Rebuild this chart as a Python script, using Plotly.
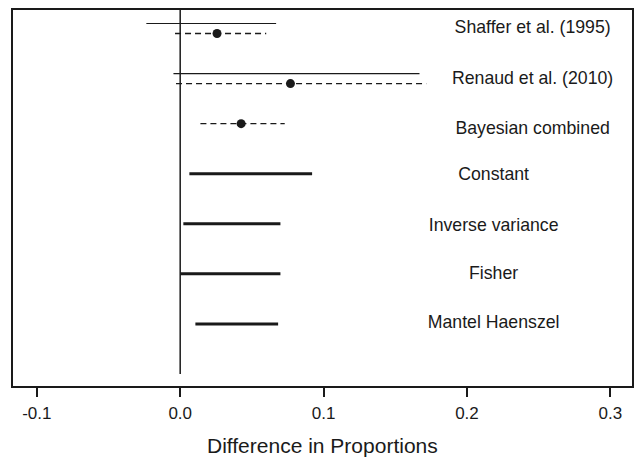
import plotly.graph_objects as go

# Data
studies = ["Shaffer et al. (1995)", "Renaud et al. (2010)"]
freq_lo = [-0.0236, -0.0047]
freq_hi = [0.0669, 0.1669]

bayes_labels = ["Shaffer et al. (1995)", "Renaud et al. (2010)", "Bayesian combined"]
bayes_lo = [-0.0036, -0.0029, 0.0141]
bayes_hi = [0.0600, 0.1716, 0.0729]
bayes_mean = [0.0257, 0.0769, 0.0425]

methods = ["Constant", "Inverse variance", "Fisher", "Mantel Haenszel"]
meth_lo = [0.0064, 0.0022, 0.0001, 0.0106]
meth_hi = [0.0920, 0.0699, 0.0699, 0.0683]

tick_vals = [-0.1, 0.0, 0.1, 0.2, 0.3]
tick_text = ["-0.1", "0.0", "0.1", "0.2", "0.3"]

# row layout
row_study = [7, 6]
row_bayes = [6.8, 5.8, 5.0]
row_meth = [4, 3, 2, 1]
YTOP = 7.27
YBOT = -0.24

INK = "#1a1a1a"
FONT = "Liberation Sans, Arial, Helvetica, sans-serif"

fig = go.Figure()

# zero reference line
fig.add_trace(go.Scatter(x=[0, 0], y=[0, YTOP], mode="lines",
                         line=dict(color=INK, width=1.5), hoverinfo="skip"))

def segs(lo, hi, ys):
    xs, yy = [], []
    for a, b, y in zip(lo, hi, ys):
        xs += [a, b, None]
        yy += [y, y, None]
    return xs, yy

x, y = segs(freq_lo, freq_hi, row_study)
fig.add_trace(go.Scatter(x=x, y=y, mode="lines", line=dict(color=INK, width=1.2)))

x, y = segs(bayes_lo, bayes_hi, row_bayes)
fig.add_trace(go.Scatter(x=x, y=y, mode="lines",
                         line=dict(color=INK, width=1.4, dash="6px,4px")))
fig.add_trace(go.Scatter(x=bayes_mean, y=row_bayes, mode="markers",
                         marker=dict(color=INK, size=9)))

x, y = segs(meth_lo, meth_hi, row_meth)
fig.add_trace(go.Scatter(x=x, y=y, mode="lines", line=dict(color=INK, width=3)))

# labels
label_x = [0.2458, 0.2458, 0.2458, 0.2186, 0.2186, 0.2186, 0.2186]
label_y = [6.9, 5.88, 4.88, 3.96, 2.94, 1.98, 1.0]
labels = [studies[0], studies[1], bayes_labels[2]] + methods
fig.add_trace(go.Scatter(x=label_x, y=label_y, mode="text", text=labels,
                         textposition="middle center",
                         textfont=dict(family=FONT, size=17.7, color=INK)))

fig.update_layout(
    width=636, height=458,
    margin=dict(l=13, r=4, t=10, b=72),
    paper_bgcolor="white", plot_bgcolor="white",
    showlegend=False,
    font=dict(family=FONT, color=INK),
    annotations=[dict(text="Difference in Proportions", xref="paper", yref="paper",
                      x=0.5, y=0, xanchor="center", yanchor="middle", yshift=-59,
                      showarrow=False, font=dict(family=FONT, size=21, color=INK))],
)
fig.update_xaxes(
    range=[-0.1166, 0.3151], tickvals=tick_vals, ticktext=tick_text,
    ticks="outside", ticklen=9, tickwidth=1.5, tickcolor=INK,
    tickfont=dict(size=17, color=INK), ticklabelstandoff=2,
    showline=True, linewidth=2, linecolor=INK, mirror=True,
    showgrid=False, zeroline=False, automargin=False,
)
fig.update_yaxes(
    range=[YBOT, YTOP], showticklabels=False, ticks="",
    showline=True, linewidth=2, linecolor=INK, mirror=True,
    showgrid=False, zeroline=False, automargin=False,
)

fig.write_html("out.html", config={"displayModeBar": False},
               post_script="document.body.style.margin='0px';document.body.style.overflow='hidden';")
